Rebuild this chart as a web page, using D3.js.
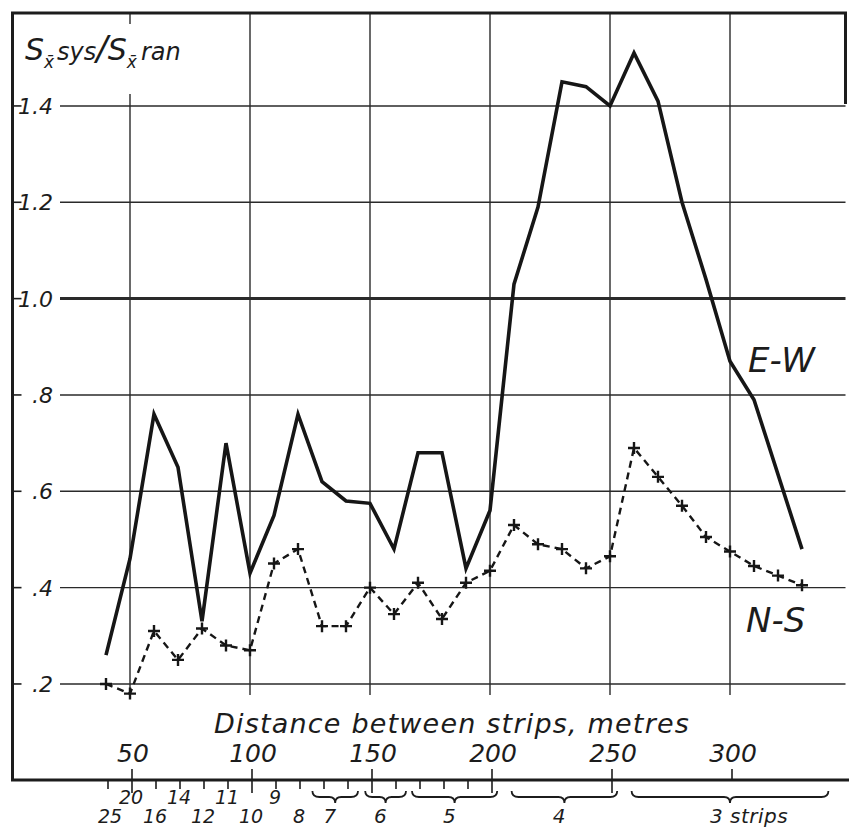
<!DOCTYPE html>
<html lang="en">
<head>
  <meta charset="UTF-8" />
  <title>Systematic vs random sampling error</title>
  <script src="https://d3js.org/d3.v7.min.js"></script>
  <style>
    body {
      margin: 0;
      background: #fff;
    }
    svg {
      display: block;
    }
    text {
      font-family: 'DejaVu Sans', sans-serif;
      font-style: italic;
      fill: #1c1c1c;
    }
    .grid {
      stroke: #2a2a2a;
      stroke-width: 1.4px;
    }
    .grid.unit {
      stroke-width: 3px;
    }
    .frame {
      stroke: #1c1c1c;
      stroke-width: 3px;
      fill: none;
    }
    .tick {
      stroke: #1c1c1c;
      stroke-width: 1.6px;
    }
    .brace {
      stroke: #1c1c1c;
      stroke-width: 1.8px;
      fill: none;
    }
  </style>
</head>
<body>
  <svg></svg>

  <script>
    // distance between strips (m) and ratio S(sys)/S(ran)
    const ewDist = [40, 50, 60, 70, 80, 90, 100, 110, 120, 130, 140, 150, 160, 170, 180, 190, 200,
                    210, 220, 230, 240, 250, 260, 270, 280, 290, 300, 310, 330];
    const ewVals = [0.26, 0.46, 0.76, 0.65, 0.33, 0.70, 0.43, 0.55, 0.76, 0.62, 0.58, 0.575, 0.48, 0.68, 0.68, 0.44, 0.56,
                    1.03, 1.19, 1.45, 1.44, 1.40, 1.51, 1.41, 1.20, 1.04, 0.87, 0.79, 0.48];

    const nsDist = [40, 50, 60, 70, 80, 90, 100, 110, 120, 130, 140, 150, 160, 170, 180, 190, 200,
                    210, 220, 230, 240, 250, 260, 270, 280, 290, 300, 310, 320, 330];
    const nsVals = [0.20, 0.18, 0.31, 0.25, 0.315, 0.28, 0.27, 0.45, 0.48, 0.32, 0.32, 0.40, 0.345, 0.41, 0.335, 0.41, 0.435,
                    0.53, 0.49, 0.48, 0.44, 0.465, 0.69, 0.63, 0.57, 0.505, 0.475, 0.445, 0.425, 0.405];

    const yTicks = [0.2, 0.4, 0.6, 0.8, 1.0, 1.2, 1.4];
    const yTickLabels = [".2", ".4", ".6", ".8", "1.0", "1.2", "1.4"];
    const xTicks = [50, 100, 150, 200, 250, 300];
    const minorTicks = [40, 60, 70, 80, 90, 110, 120, 130, 140, 160, 170, 180, 190];
    const longTicks = [50, 100, 150, 200, 250];

    // number of strips under the distance scale
    const stripDist = [40, 50, 60, 70, 80, 90, 100, 110, 120];
    const stripCount = ["25", "20", "16", "14", "12", "11", "10", "9", "8"];
    const groupLabels = ["7", "6", "5", "4", "3 strips"];
    const groupFrom = [126, 148, 167.5, 209, 259];
    const groupTo = [145, 165, 203, 253, 341];

    const width = 849, height = 829;
    const svg = d3.select("svg").attr("width", width).attr("height", height);

    const x = d3.scaleLinear().domain([0, 350]).range([10, 850]);
    const y = d3.scaleLinear().domain([0, 1.6]).range([780.3, 9.6]);

    const fLeft = 12.5, fRight = 845.5, fTop = 13, fBottom = 780;

    // grid
    svg.append("g")
      .selectAll("line")
      .data(yTicks)
      .join("line")
      .attr("class", d => d === 1.0 ? "grid unit" : "grid")
      .attr("x1", 60).attr("x2", fRight)
      .attr("y1", d => y(d)).attr("y2", d => y(d));

    svg.append("g")
      .selectAll("line")
      .data(xTicks)
      .join("line")
      .attr("class", "grid")
      .attr("x1", d => x(d)).attr("x2", d => x(d))
      .attr("y1", fTop).attr("y2", y(0.2) + 11);

    // blank patch behind the axis title
    svg.append("rect")
      .attr("x", 18).attr("y", 24).attr("width", 180).attr("height", 70)
      .attr("fill", "#fff");

    svg.append("text")
      .attr("x", 25).attr("y", 60)
      .style("font-size", "24px")
      .call(t => {
        t.append("tspan").style("font-size", "30px").text("S");
        t.append("tspan").attr("dy", 8).style("font-size", "17px").text("x̄");
        t.append("tspan").attr("dy", -8).attr("dx", 3).text("sys");
        t.append("tspan").style("font-size", "34px").text("/");
        t.append("tspan").style("font-size", "30px").text("S");
        t.append("tspan").attr("dy", 8).style("font-size", "17px").text("x̄");
        t.append("tspan").attr("dy", -8).attr("dx", 4).text("ran");
      });

    // y labels with small ticks off the frame
    const yl = svg.append("g");
    yl.selectAll("line")
      .data(yTicks)
      .join("line")
      .attr("class", "tick")
      .attr("x1", fLeft).attr("x2", fLeft + 9)
      .attr("y1", d => y(d)).attr("y2", d => y(d));
    yl.selectAll("text")
      .data(yTicks)
      .join("text")
      .attr("x", 53)
      .attr("y", d => y(d))
      .attr("dy", "0.36em")
      .attr("text-anchor", "end")
      .style("font-size", "22px")
      .text((d, i) => yTickLabels[i]);

    // frame
    svg.append("path")
      .attr("class", "frame")
      .attr("d", `M${fLeft},${fBottom}V${fTop}H${fRight}V104`);
    svg.append("line")
      .attr("class", "frame")
      .attr("x1", fLeft - 1.5).attr("x2", width)
      .attr("y1", fBottom).attr("y2", fBottom);

    // distance scale on the bottom frame
    const bx = svg.append("g");
    bx.selectAll("line.minor")
      .data(minorTicks)
      .join("line")
      .attr("class", "tick minor")
      .attr("x1", d => x(d) + 2).attr("x2", d => x(d) + 2)
      .attr("y1", fBottom).attr("y2", fBottom + 9);
    bx.selectAll("line.major")
      .data(xTicks)
      .join("line")
      .attr("class", "tick major")
      .attr("x1", d => x(d) + 2).attr("x2", d => x(d) + 2)
      .attr("y1", fBottom - 11)
      .attr("y2", d => longTicks.includes(d) ? fBottom + 13 : fBottom);
    bx.selectAll("text")
      .data(xTicks)
      .join("text")
      .attr("x", d => x(d) + 3)
      .attr("y", 762)
      .attr("text-anchor", "middle")
      .style("font-size", "25px")
      .text(d => d);

    svg.append("text")
      .attr("x", 452).attr("y", 733)
      .attr("text-anchor", "middle")
      .style("font-size", "27px")
      .style("letter-spacing", "1.2px")
      .text("Distance between strips, metres");

    // strip counts
    svg.append("g")
      .selectAll("text")
      .data(stripDist)
      .join("text")
      .attr("x", (d, i) => x(d) + (i === 0 ? 4 : 1))
      .attr("y", (d, i) => i % 2 ? 804 : 823)
      .attr("text-anchor", "middle")
      .style("font-size", "19px")
      .text((d, i) => stripCount[i]);

    const brace = (a, b) => {
      const x1 = x(a), x2 = x(b), xm = (x1 + x2) / 2;
      const y0 = 791, y1 = 797, y2 = 803;
      return `M${x1},${y0}Q${x1},${y1} ${x1 + 7},${y1}L${xm - 6},${y1}Q${xm},${y1} ${xm},${y2}` +
             `Q${xm},${y1} ${xm + 6},${y1}L${x2 - 7},${y1}Q${x2},${y1} ${x2},${y0}`;
    };
    const groups = svg.append("g");
    groups.selectAll("path")
      .data(groupLabels)
      .join("path")
      .attr("class", "brace")
      .attr("d", (d, i) => brace(groupFrom[i], groupTo[i]));
    groups.selectAll("text")
      .data(groupLabels)
      .join("text")
      .attr("x", (d, i) => {
        const m = x((groupFrom[i] + groupTo[i]) / 2);
        return d.length > 1 ? m - 20 : m - 5;
      })
      .attr("y", 823)
      .attr("text-anchor", d => d.length > 1 ? "start" : "middle")
      .style("font-size", "20px")
      .style("letter-spacing", "0.5px")
      .text(d => d);

    // series
    const ew = ewDist.map((d, i) => [d, ewVals[i]]);
    const ns = nsDist.map((d, i) => [d, nsVals[i]]);
    const line = d3.line().x(d => x(d[0])).y(d => y(d[1]));

    svg.append("path")
      .datum(ew)
      .attr("d", line)
      .attr("fill", "none")
      .attr("stroke", "#161616")
      .attr("stroke-width", 3.6)
      .attr("stroke-linejoin", "miter");

    svg.append("path")
      .datum(ns)
      .attr("d", line)
      .attr("fill", "none")
      .attr("stroke", "#161616")
      .attr("stroke-width", 2.4)
      .attr("stroke-dasharray", "7,5");

    svg.append("g")
      .selectAll("path")
      .data(ns)
      .join("path")
      .attr("d", d => `M${x(d[0]) - 6},${y(d[1])}h12M${x(d[0])},${y(d[1]) - 6}v12`)
      .attr("stroke", "#161616")
      .attr("stroke-width", 2.4);

    svg.append("text")
      .attr("x", 748).attr("y", 372)
      .style("font-size", "34px")
      .text("E-W");
    svg.append("text")
      .attr("x", 746).attr("y", 632)
      .style("font-size", "34px")
      .text("N-S");
  </script>
</body>
</html>
